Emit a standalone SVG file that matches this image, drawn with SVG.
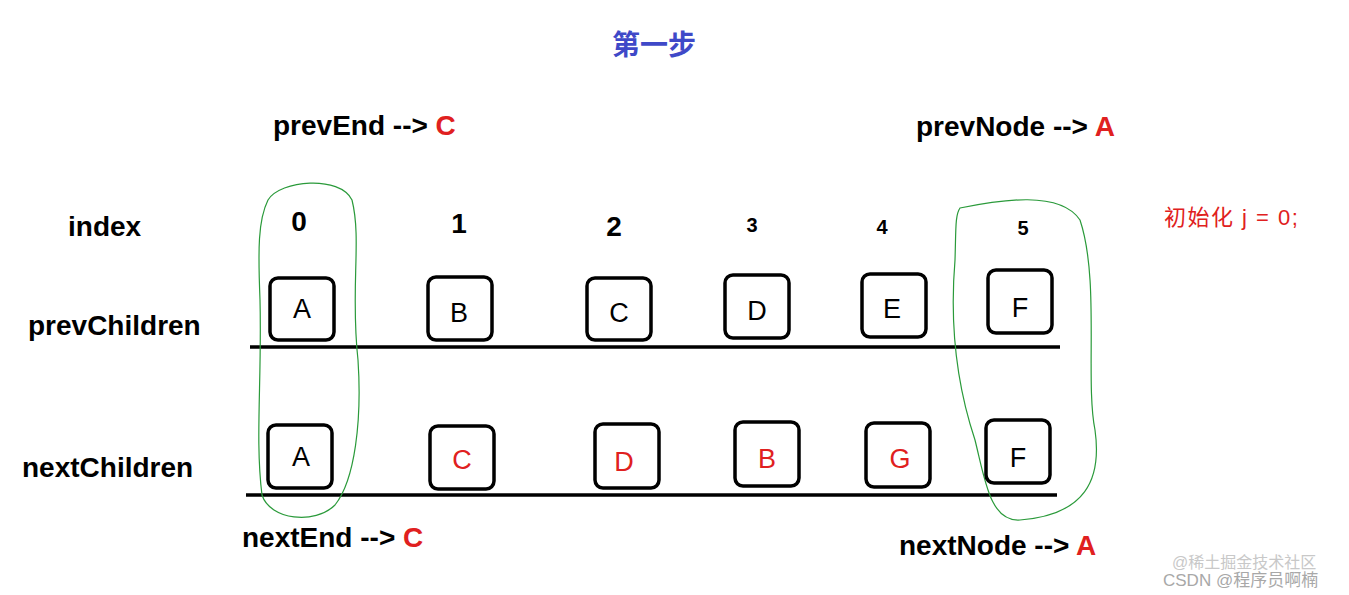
<svg xmlns="http://www.w3.org/2000/svg" width="1349" height="595" viewBox="0 0 1349 595">
<style>
.b{fill:#fff;stroke:#000;stroke-width:3.5}
.t{font-family:"Liberation Sans","Noto Sans CJK SC",sans-serif;font-size:27px;text-anchor:middle}
.l{font-family:"Liberation Sans","Noto Sans CJK SC",sans-serif;font-size:28px;font-weight:bold}
.r{fill:#e02020}
.g{fill:none;stroke:#2a9a3a;stroke-width:1.2}
</style>
<rect width="1349" height="595" fill="#fff"/>
<text x="654" y="55" class="l" fill="#3f49c8" text-anchor="middle" font-size="25">第一步</text>
<text x="273" y="135" class="l">prevEnd --&gt; <tspan class="r">C</tspan></text>
<text x="916" y="136" class="l">prevNode --&gt; <tspan class="r">A</tspan></text>
<text x="242" y="547" class="l">nextEnd --&gt; <tspan class="r">C</tspan></text>
<text x="899" y="555" class="l">nextNode --&gt; <tspan class="r">A</tspan></text>
<text x="68" y="236" class="l">index</text>
<text x="28" y="335" class="l">prevChildren</text>
<text x="22" y="477" class="l">nextChildren</text>
<g class="l" text-anchor="middle" font-size="23">
<text x="299" y="231">0</text><text x="459" y="233">1</text><text x="614" y="236">2</text>
<text x="752" y="232" font-size="20">3</text><text x="882" y="234" font-size="20">4</text><text x="1023" y="235" font-size="20">5</text>
</g>
<text x="1164" y="225" font-family="Liberation Sans,Noto Sans CJK SC,sans-serif" font-size="22" letter-spacing="1.5" fill="#e02020">初始化 j = 0;</text>
<g id="connectors">
<line x1="250" y1="347" x2="1060" y2="347" stroke="#000" stroke-width="3.5"/>
<line x1="246" y1="495" x2="1057" y2="495" stroke="#000" stroke-width="3.5"/>
<path class="g" d="M268,200 C280,180 340,175 352,200 C362,240 350,290 358,360 C362,420 355,480 335,505 C315,525 270,520 262,495 C255,440 262,380 260,300 C258,250 258,220 268,200 Z"/>
<path class="g" d="M960,208 C1000,200 1060,190 1080,220 C1100,280 1085,380 1095,430 C1102,480 1085,515 1020,520 C990,522 985,480 975,440 C955,380 950,320 955,260 C956,230 955,215 960,208 Z"/>
</g>
<g id="pA"><rect class="b" x="270" y="278" width="64" height="62" rx="8"/><text class="t" x="302" y="318">A</text></g>
<g id="pB"><rect class="b" x="428" y="277" width="64" height="63" rx="8"/><text class="t" x="459" y="322">B</text></g>
<g id="pC"><rect class="b" x="587" y="278" width="64" height="62" rx="8"/><text class="t" x="619" y="322">C</text></g>
<g id="pD"><rect class="b" x="725" y="275" width="64" height="63" rx="8"/><text class="t" x="757" y="320">D</text></g>
<g id="pE"><rect class="b" x="862" y="274" width="64" height="63" rx="8"/><text class="t" x="892" y="318">E</text></g>
<g id="pF"><rect class="b" x="988" y="270" width="64" height="63" rx="8"/><text class="t" x="1020" y="317">F</text></g>
<g id="nA"><rect class="b" x="268" y="425" width="64" height="63" rx="8"/><text class="t" x="301" y="466">A</text></g>
<g id="nC"><rect class="b" x="430" y="426" width="64" height="63" rx="8"/><text class="t r" x="462" y="469">C</text></g>
<g id="nD"><rect class="b" x="595" y="424" width="64" height="64" rx="8"/><text class="t r" x="624" y="471">D</text></g>
<g id="nB"><rect class="b" x="735" y="422" width="64" height="64" rx="8"/><text class="t r" x="767" y="468">B</text></g>
<g id="nG"><rect class="b" x="866" y="423" width="64" height="64" rx="8"/><text class="t r" x="900" y="468">G</text></g>
<g id="nF"><rect class="b" x="986" y="420" width="64" height="63" rx="8"/><text class="t" x="1018" y="467">F</text></g>
<text x="1172" y="568" font-family="Liberation Sans,Noto Sans CJK SC,sans-serif" font-size="16" fill="#c8c8c8">@稀土掘金技术社区</text>
<text x="1163" y="586" font-family="Liberation Sans,Noto Sans CJK SC,sans-serif" font-size="17" fill="#a8a8a8">CSDN @程序员啊楠</text>
</svg>
